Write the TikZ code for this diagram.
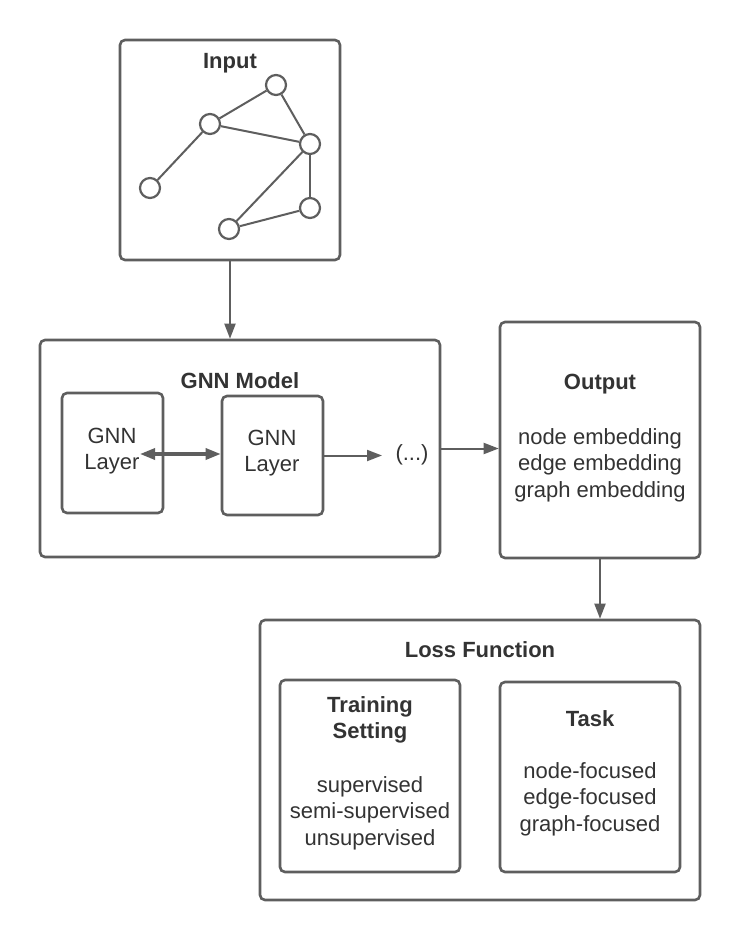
\documentclass[tikz,border=0pt]{standalone}
\usepackage{fontspec}
\setmainfont{Liberation Sans}
\usetikzlibrary{arrows.meta}
\definecolor{linegray}{RGB}{94,94,94}
\definecolor{textdark}{RGB}{51,51,51}
\tikzset{
  box/.style={draw=linegray, line width=2.6pt, rounded corners=5pt, fill=white, inner sep=0pt},
  vert/.style={draw=linegray, line width=2.2pt, circle, minimum size=20pt, inner sep=0pt, fill=white},
  edge/.style={draw=linegray, line width=2pt},
  arr/.style={draw=linegray, line width=2pt, -{Triangle[length=15pt,width=11pt]}},
  arrtwo/.style={draw=linegray, line width=3.2pt, {Triangle[length=15pt,width=11pt]}-{Triangle[length=15pt,width=11pt]}},
  title/.style={text=textdark, font=\bfseries\fontsize{22}{26.5}\selectfont, align=center, inner sep=0pt},
  body/.style={text=textdark, font=\fontsize{22}{26.5}\selectfont, align=center, inner sep=0pt},
}
\begin{document}
\begin{tikzpicture}[x=1pt,y=-1pt]
\useasboundingbox[fill=white] (0,0) rectangle (740,940);

% boxes
\node[box, minimum width=220pt, minimum height=220pt] (input) at (230,150) {};
\node[box, minimum width=400pt, minimum height=217pt] (gnn) at (240,448.5) {};
\node[box, minimum width=101pt, minimum height=120pt] (l1) at (112.5,453) {};
\node[box, minimum width=101pt, minimum height=119pt] (l2) at (272.5,455.5) {};
\node[box, minimum width=200pt, minimum height=236pt] (out) at (600,440) {};
\node[box, minimum width=440pt, minimum height=280pt] (loss) at (480,760) {};
\node[box, minimum width=180pt, minimum height=192pt] (train) at (370,776) {};
\node[box, minimum width=180pt, minimum height=190pt] (task) at (590,777) {};

% texts
\node[title] (tin) at (230,63) {Input};
\node[title] (tgnn) at (240,381) {GNN Model};
\node[body] (tl1) at (112,451) {GNN\\Layer};
\node[body] (tl2) at (272,453) {GNN\\Layer};
\node[body] (dots) at (412,455) {(...)};
\node[title] (tout) at (600,384) {Output};
\node[body] (lout) at (600,465) {node embedding\\edge embedding\\graph embedding};
\node[title] (tloss) at (480,650) {Loss Function};
\node[title] (ttrain) at (370,720) {Training\\Setting};
\node[body] (ltrain) at (370,813) {supervised\\semi-supervised\\unsupervised};
\node[title] (ttask) at (590,719) {Task};
\node[body] (ltask) at (590,799) {node-focused\\edge-focused\\graph-focused};

% graph in input
\node[vert] (a) at (276,85) {};
\node[vert] (b) at (210,124) {};
\node[vert] (c) at (310,144) {};
\node[vert] (d) at (150,188) {};
\node[vert] (e) at (310,208) {};
\node[vert] (f) at (229,229) {};
\draw[edge] (a) -- (b);
\draw[edge] (a) -- (c);
\draw[edge] (b) -- (c);
\draw[edge] (b) -- (d);
\draw[edge] (c) -- (f);
\draw[edge] (c) -- (e);
\draw[edge] (e) -- (f);

% connectors
\draw[arr] (input.south) -- (input.south |- gnn.north);
\draw[arr] (gnn.east) -- (gnn.east -| out.west);
\draw[arr] (out.south) -- (out.south |- loss.north);
\coordinate (dotsin) at (382,455.5);
\draw[arr] (l2.east) -- (dotsin);
\coordinate (l1tip) at (140,454);
\draw[arrtwo] (l1tip) -- (l1tip -| l2.west);
\end{tikzpicture}
\end{document}
